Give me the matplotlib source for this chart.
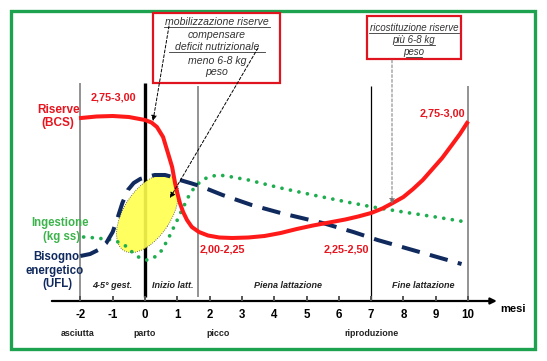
import numpy as np
import matplotlib
matplotlib.use("Agg")
import matplotlib.pyplot as plt
from matplotlib.patches import Ellipse, Rectangle
import matplotlib.transforms as mtransforms

plt.rcParams['font.family'] = ['Liberation Sans', 'DejaVu Sans']

# mesi (x) e livello relativo (y, 0 = asse dei mesi)
mesi_ticks = list(range(-2, 11))
fasi = ["asciutta", "parto", "picco", "riproduzione"]
fasi_mesi = [-2.1, 0, 2.25, 7]

riserve_m = [-1.98, -1.5, -1.0, -0.5, 0.0, 0.2, 0.37, 0.56, 0.71, 0.84, 0.93, 1.0, 1.08, 1.18, 1.3,
             1.45, 1.67, 1.95, 2.3, 2.7, 3.2, 3.7, 4.2, 4.7, 5.2, 5.7, 6.2, 6.6, 7.0, 7.35, 7.67,
             8.0, 8.3, 8.6, 8.9, 9.2, 9.5, 9.75, 9.97]
riserve_y = [183, 184.5, 185, 184, 181, 178.5, 174, 164, 148, 134, 118, 108, 98, 89, 81,
             74, 69, 65.5, 63.5, 63, 63.5, 65, 68, 72, 75.5, 78.5, 81.5, 84.5, 88, 92.5, 98,
             104, 112, 121, 132, 143, 156, 167, 178]

bisogno_m = [-2.0, -1.7, -1.45, -1.2, -1.0, -0.84, -0.7, -0.53, -0.35, -0.15, 0.06, 0.3, 0.62,
             0.85, 1.08, 1.4, 1.7, 2.4, 3.3, 4.2, 5.5, 6.45, 7.2, 8.5, 9.8]
bisogno_y = [45, 47, 51, 58, 69, 84, 98, 111, 118, 122, 124, 126, 126,
             124, 121, 118, 115, 106, 96, 88, 78, 69, 61, 49, 37]

ingestione_m = [-1.9, -1.5, -1.0, -0.75, -0.55, -0.4, -0.2, 0.05, 0.3, 0.5, 0.7, 0.85, 1.0, 1.1,
                1.25, 1.4, 1.55, 1.7, 1.9, 2.1, 2.3, 2.7, 3.2, 4.2, 5.2, 6.25, 7.05, 8.0, 9.0, 9.95]
ingestione_y = [64, 63, 61, 58, 54, 49, 44, 41, 44, 50, 61, 71, 81, 88,
                98, 108, 114, 119, 123, 125, 126, 124, 121, 113, 106, 99, 94, 89, 84, 79]

# ellisse gialla: centro (mese, livello)
ell_centro = (0.08, 87.5)

RED = '#ff1a1a'
NAVY = '#102a5e'
GREEN = '#1fae4f'

fig = plt.figure(figsize=(5.47, 3.61), dpi=100)
ax = fig.add_axes([0, 0, 1, 1])
ax.set_xlim(-145 / 32.3, (547 - 145) / 32.3)
ax.set_ylim(-60, 301)
ax.axis('off')

# trasformazione in pixel (origine in alto a sinistra)
px = mtransforms.Affine2D().scale(1 / 547, -1 / 361).translate(0, 1) + fig.transFigure

# cornice verde
ax.add_patch(Rectangle((11, 11), 524, 338, transform=px, fill=False, ec='#1da24f', lw=2.4, clip_on=False))

# linee verticali
ax.vlines(-2, 0, 218, color='#8a8a8a', lw=1.3, zorder=1)
ax.vlines(0, 4, 218, color='black', lw=2.4, zorder=1)
ax.vlines(1.64, 4, 215, color='#8a8a8a', lw=1.3, zorder=1)
ax.vlines(7, 0, 215, color='black', lw=0.9, zorder=1)
ax.vlines(10, 1, 215, color='#8a8a8a', lw=1.3, zorder=1)

# asse dei mesi
ax.annotate('', xy=(10.98, 0), xytext=(-2.97, 0),
            arrowprops=dict(arrowstyle='-|>', color='black', lw=1.6, mutation_scale=9), zorder=4)
ax.vlines(mesi_ticks, 0, 5, color='#555555', lw=1.4, zorder=4)
for m in mesi_ticks:
    ax.text(m, -14, str(m), ha='center', va='center', fontsize=8.3, fontweight='bold')
ax.text(11.0, -8, 'mesi', ha='left', va='center', fontsize=8, fontweight='bold')
for f, m in zip(fasi, fasi_mesi):
    ax.text(m, -32, f, ha='center', va='center', fontsize=6.4, fontweight='bold', color='#222222')

# ellisse
ell_tr = fig.dpi_scale_trans + mtransforms.ScaledTranslation(ell_centro[0], ell_centro[1], ax.transData)
ax.add_patch(Ellipse((0, 0), 0.88, 0.47, angle=57, transform=ell_tr, fc='#ffff4d', alpha=0.9,
                     ec='#333333', lw=0.6, ls=':', zorder=2))

# curve
ax.plot(ingestione_m, ingestione_y, color=GREEN, lw=2.7, ls=(0, (0.01, 2.3)),
        dash_capstyle='round', zorder=3)
ax.plot(bisogno_m, bisogno_y, color=NAVY, lw=2.9, ls=(0, (4.6, 2.6)), zorder=4)
ax.plot(riserve_m, riserve_y, color=RED, lw=2.9, zorder=5)

# etichette a sinistra
ax.text(80, 110, 'Riserve', transform=px, ha='right', va='center', fontsize=8.5, fontweight='bold', color='#e8141e')
ax.text(58, 123, '(BCS)', transform=px, ha='center', va='center', fontsize=8.5, fontweight='bold', color='#e8141e')
ax.text(60, 223, 'Ingestione', transform=px, ha='center', va='center', fontsize=8.3, fontweight='bold', color='#3cb44b')
ax.text(62, 237, '(kg ss)', transform=px, ha='center', va='center', fontsize=8.3, fontweight='bold', color='#3cb44b')
ax.text(56, 257, 'Bisogno', transform=px, ha='center', va='center', fontsize=8.3, fontweight='bold', color=NAVY)
ax.text(55, 271, 'energetico', transform=px, ha='center', va='center', fontsize=8.3, fontweight='bold', color=NAVY)
ax.text(57, 284, '(UFL)', transform=px, ha='center', va='center', fontsize=8.3, fontweight='bold', color=NAVY)

# valori BCS
for s, x, y in [('2,75-3,00', 113, 98), ('2,00-2,25', 222, 249), ('2,25-2,50', 346, 249), ('2,75-3,00', 442, 113)]:
    ax.text(x, y, s, transform=px, ha='center', va='center', fontsize=7.8, fontweight='bold', color='#e8141e')

# fasi della lattazione
for s, x in [('4-5° gest.', 112), ('Inizio latt.', 173), ('Piena lattazione', 288), ('Fine lattazione', 423)]:
    ax.text(x, 285, s, transform=px, ha='center', va='center', fontsize=6.5, fontweight='bold',
            fontstyle='italic', color='#222222')

# riquadri
ax.add_patch(Rectangle((153, 13), 127, 70, transform=px, fc='white', ec='#e0141e', lw=1.6, zorder=6, clip_on=False))
ax.add_patch(Rectangle((367, 16), 94, 43, transform=px, fc='white', ec='#e0141e', lw=1.6, zorder=6, clip_on=False))

box1 = [('mobilizzazione riserve', 22, True), ('compensare', 35, False), ('deficit nutrizionale', 47, True),
        ('meno 6-8 kg', 61, False), ('peso', 72, False)]
for s, y, u in box1:
    ax.text(217, y, s, transform=px, ha='center', va='center', fontsize=7.6, fontstyle='italic',
            color='#333333', zorder=7)
    if u:
        ax.plot([217 - len(s) * 2.42, 217 + len(s) * 2.42], [y + 5, y + 5],
                transform=px, color='#333333', lw=0.6, zorder=7, clip_on=False)

box2 = [('ricostituzione riserve', 28), ('più 6-8 kg', 40), ('peso', 52)]
for s, y in box2:
    ax.text(414, y, s, transform=px, ha='center', va='center', fontsize=7, fontstyle='italic',
            color='#333333', zorder=7)
    ax.plot([414 - len(s) * 2.05, 414 + len(s) * 2.05], [y + 5, y + 5],
            transform=px, color='#333333', lw=0.6, zorder=7, clip_on=False)

# frecce tratteggiate
arr = dict(arrowstyle='-|>', color='black', lw=0.7, ls=(0, (3, 2)), mutation_scale=8, shrinkA=0, shrinkB=0)
ax.annotate('', xy=(153, 121), xytext=(169, 26), xycoords=px, textcoords=px, arrowprops=arr, zorder=8)
ax.annotate('', xy=(170, 198), xytext=(258, 48), xycoords=px, textcoords=px, arrowprops=arr, zorder=8)
arr2 = dict(arr, color='#777777')
ax.annotate('', xy=(392, 204), xytext=(392, 60), xycoords=px, textcoords=px, arrowprops=arr2, zorder=8)

fig.savefig('out.png', dpi=100)
